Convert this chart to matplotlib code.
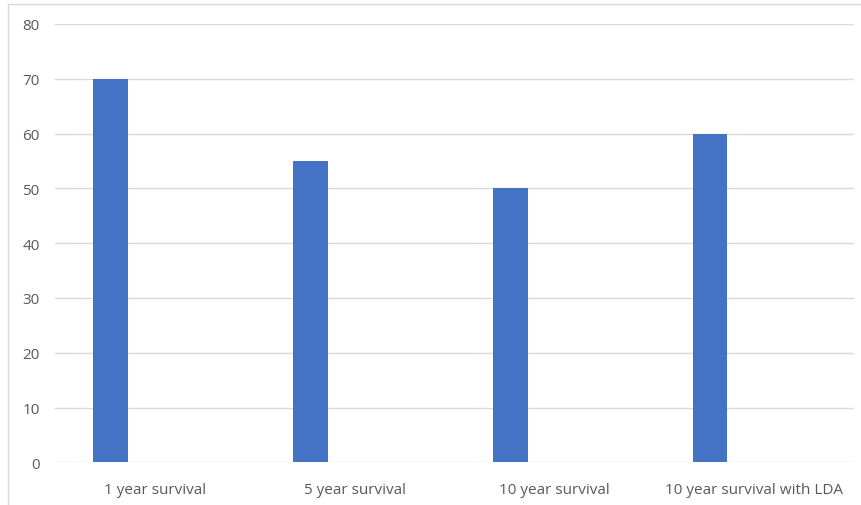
import matplotlib.pyplot as plt
from matplotlib.patches import Rectangle
import numpy as np

categories = ["1 year survival", "5 year survival", "10 year survival", "10 year survival with LDA"]
values = [70, 55, 50, 60]
yticks = [0, 10, 20, 30, 40, 50, 60, 70, 80]

plt.rcParams['font.family'] = ['Open Sans', 'DejaVu Sans']

fig = plt.figure(figsize=(8.61, 5.06), dpi=100)
ax = fig.add_axes([55 / 861, 1 - 463.3 / 506, 799 / 861, (463.3 - 25) / 506])

# chart frame (Excel style, only left/top edges visible in the crop)
fig.patches.append(Rectangle((8 / 861, -0.01), 1.0, 1 - 5 / 506 + 0.01, transform=fig.transFigure,
                             fill=False, edgecolor='#d9d9d9', linewidth=1.0))

x = np.arange(len(categories))
ax.bar(x - 0.221, values, width=0.175, color='#4472c4', zorder=3)

ax.set_xlim(-0.5, 3.5)
ax.set_ylim(0, 80)
ax.set_yticks(yticks)
ax.set_xticks(x)
ax.set_xticklabels(categories)
ax.grid(axis='y', color='#d9d9d9', linewidth=1.0, zorder=0)
for s in ax.spines.values():
    s.set_visible(False)
ax.tick_params(axis='both', length=0, labelsize=11, labelcolor='#595959')
ax.tick_params(axis='y', pad=11)
ax.tick_params(axis='x', pad=14)

fig.savefig("out.png", dpi=100)
